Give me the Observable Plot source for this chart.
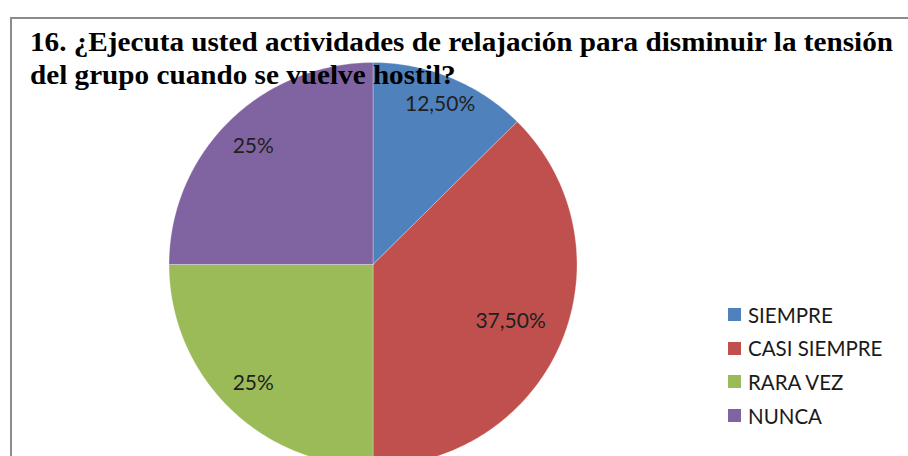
<!DOCTYPE html>
<html>
<head>
<meta charset="utf-8">
<script src="https://cdn.jsdelivr.net/npm/d3@7"></script>
<script src="https://cdn.jsdelivr.net/npm/@observablehq/plot@0.6"></script>
<style>
  html, body { margin: 0; padding: 0; background: #fff; }
  #wrap { position: relative; width: 908px; height: 456px; overflow: hidden; }
  #frame { position: absolute; left: 10px; top: 17px; width: 1000px; height: 600px; border: 2px solid #8c8c8c; box-sizing: border-box; }
  #title { position: absolute; left: 30px; top: 26px; font-family: "Liberation Serif", serif; font-weight: bold; font-size: 28px; line-height: 32.5px; color: #000; white-space: nowrap; z-index: 3; transform-origin: 0 0; }
  #title span { display: block; }
  #legend { position: absolute; left: 728px; top: 298px; font-family: Lato, sans-serif; font-size: 20.5px; color: #1a1a1a; z-index: 3; }
  .item { display: flex; align-items: center; height: 33.6px; }
  .sw { width: 13px; height: 13px; margin-right: 7px; }
  #chart { position: absolute; left: 0; top: 0; z-index: 2; }
</style>
</head>
<body>
<div id="wrap">
  <div id="frame"></div>
  <div id="chart"></div>
  <div id="title"><span id="t1">16. ¿Ejecuta usted actividades de relajación para disminuir la tensión</span><span id="t2">del grupo cuando se vuelve hostil?</span></div>
  <div id="legend"></div>
</div>
<script>
const categories = ["SIEMPRE", "CASI SIEMPRE", "RARA VEZ", "NUNCA"];
const values = [12.5, 37.5, 25, 25];
const colors = ["#4F81BD", "#C0504D", "#9BBB59", "#8064A2"];

const fmt = v => (Number.isInteger(v) ? String(v) : v.toFixed(2).replace(".", ",")) + "%";

const total = d3.sum(values);
let acc = 0;
const slices = categories.map((c, i) => {
  const a0 = acc / total * 2 * Math.PI;
  acc += values[i];
  const a1 = acc / total * 2 * Math.PI;
  return {cat: c, value: values[i], a0, a1};
});

// outline points of each wedge (angle measured clockwise from top)
const wedges = slices.map(s => {
  const pts = [{x: 0, y: 0}];
  const n = Math.max(2, Math.ceil((s.a1 - s.a0) / (Math.PI / 180)));
  for (let k = 0; k <= n; k++) {
    const a = s.a0 + (s.a1 - s.a0) * k / n;
    pts.push({x: Math.sin(a), y: Math.cos(a)});
  }
  pts.push({x: 0, y: 0});
  return pts;
});

const labelRadius = [0.86, 0.73, 0.83, 0.83];
const labels = slices.map((s, i) => {
  const a = (s.a0 + s.a1) / 2;
  return {x: labelRadius[i] * Math.sin(a), y: labelRadius[i] * Math.cos(a), text: fmt(s.value)};
});

const cx = 372.5, cy = 264, rx = 204, ry = 202;

const plot = Plot.plot({
  width: 908,
  height: 456,
  margin: 0,
  style: {background: "transparent", overflow: "visible"},
  x: {domain: [-1, 1], range: [cx - rx, cx + rx], axis: null},
  y: {domain: [-1, 1], range: [cy + ry, cy - ry], axis: null},
  marks: [
    ...wedges.map((w, i) => Plot.line(w, {x: "x", y: "y", fill: colors[i], stroke: "#ffffff", strokeWidth: 0.6, strokeOpacity: 0.5, curve: "linear"})),
    Plot.text(labels, {x: "x", y: "y", text: "text", fontSize: 21, fontFamily: "Lato, sans-serif", fill: "#1f1f1f"})
  ]
});
document.getElementById("chart").appendChild(plot);

// stretch title so line 1 spans like the reference
const t1 = document.getElementById("t1");
const w1 = t1.getBoundingClientRect().width;
const target = 863;
document.getElementById("title").style.transform = `scaleX(${target / w1})`;

const legend = document.getElementById("legend");
categories.forEach((c, i) => {
  const row = document.createElement("div");
  row.className = "item";
  const sw = document.createElement("div");
  sw.className = "sw";
  sw.style.background = colors[i];
  const t = document.createElement("span");
  t.textContent = c;
  row.appendChild(sw);
  row.appendChild(t);
  legend.appendChild(row);
});
</script>
</body>
</html>
